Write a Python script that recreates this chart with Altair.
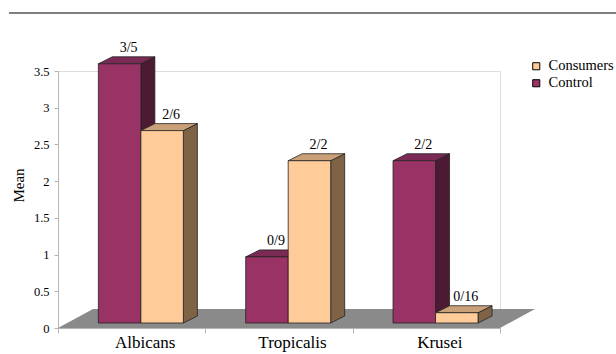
import json
import altair as alt
import pandas as pd

# ---------------- data ----------------
categories = ["Albicans", "Tropicalis", "Krusei"]
series = ["Control", "Consumers"]
control_means = [3.53, 0.90, 2.21]
consumer_means = [2.62, 2.21, 0.14]
control_labels = ["3/5", "0/9", "2/2"]
consumer_labels = ["2/6", "2/2", "0/16"]
y_ticks = [0, 0.5, 1, 1.5, 2, 2.5, 3, 3.5]

# ---------------- styles ----------------
FRONT = {"Control": "#993366", "Consumers": "#ffcc99"}
TOP = {"Control": "#7a2a55", "Consumers": "#c9a077"}
SIDE = {"Control": "#4c1a33", "Consumers": "#7f6347"}
FONT = "Liberation Serif"

W, H = 442, 257           # plot area in px
X_PX = W / 3.0            # px per category unit
Y_PX = H / 3.5            # px per value unit
FLOOR_DX, FLOOR_DY = 35 / X_PX, 19 / Y_PX
BAR_OX, BAR_OY = 9.2 / X_PX, 5 / Y_PX
BAR_DX, BAR_DY = 14 / X_PX, 7 / Y_PX
BAR_W = 42.5 / X_PX
LABEL_SHIFT = 13 / X_PX

values = {"Control": control_means, "Consumers": consumer_means}
labels = {"Control": control_labels, "Consumers": consumer_labels}

fronts, sides, tops, texts = [], [], [], []
for i, cat in enumerate(categories):
    for s, ser in enumerate(series):
        v = values[ser][i]
        bid = f"{cat}-{ser}"
        x0 = i + 0.5 - BAR_W + s * BAR_W + BAR_OX
        x1 = x0 + BAR_W
        y0 = BAR_OY
        y1 = BAR_OY + v
        fronts.append(dict(id=bid, series=ser, x=x0, x2=x1, y=y0, y2=y1))
        sides.append(dict(id=bid, o=0, fill=SIDE[ser], x=x1, y=y1, y2=y0))
        sides.append(dict(id=bid, o=1, fill=SIDE[ser], x=x1 + BAR_DX, y=y1 + BAR_DY, y2=y0 + BAR_DY))
        tops.append(dict(id=bid, o=0, fill=TOP[ser], y=y1, x=x0, x2=x1))
        tops.append(dict(id=bid, o=1, fill=TOP[ser], y=y1 + BAR_DY, x=x0 + BAR_DX, x2=x1 + BAR_DX))
        texts.append(dict(label=labels[ser][i], x=(x0 + x1) / 2 + 9 / X_PX, y=y1))

floor = pd.DataFrame([
    dict(id="floor", o=0, y=0, x=0, x2=3),
    dict(id="floor", o=1, y=FLOOR_DY, x=FLOOR_DX, x2=3 + FLOOR_DX),
])

XS = alt.Scale(domain=[0, 3], nice=False, zero=False)
YS = alt.Scale(domain=[0, 3.5], nice=False, zero=False)

x_vals = []
for i in range(len(categories)):
    x_vals += [i, round(i + 0.5 + LABEL_SHIFT, 4)]
x_vals.append(len(categories))

XA = alt.Axis(
    values=x_vals,
    labelExpr=f"datum.value % 1 === 0 ? '' : {json.dumps(categories)}[floor(datum.value)]",
    tickOpacity={"condition": {"test": "datum.value % 1 === 0", "value": 1}, "value": 0},
    tickSize=5, tickColor="#b5b5b5", domainColor="#b5b5b5",
    labelFont=FONT, labelFontSize=17, labelColor="#000", labelPadding=1,
    labelOverlap=False, labelFlush=False, grid=False, title=None,
)
YA = alt.Axis(
    values=y_ticks, format=".1~f",
    tickSize=4, tickColor="#b5b5b5", domainColor="#b5b5b5",
    labelFont=FONT, labelFontSize=12.5, labelColor="#000", labelPadding=5,
    grid=False, title="Mean", titleFont=FONT, titleFontSize=15,
    titleFontWeight="normal", titleColor="#000", titleAngle=270,
    titleX=-40, titleY=114, titleAlign="center", titleBaseline="middle",
)


def X(f):
    return alt.X(f, type="quantitative", scale=XS, axis=XA, stack=None)


def Y(f):
    return alt.Y(f, type="quantitative", scale=YS, axis=YA, stack=None)


floor_layer = alt.Chart(floor).mark_area(
    orient="horizontal", color="#8a8a8a", opacity=1
).encode(y=Y("y"), x=X("x"), x2="x2")

side_layer = alt.Chart(pd.DataFrame(sides)).mark_area(
    orient="vertical", stroke="#222", strokeWidth=0.8, opacity=1
).encode(
    x=X("x"), y=Y("y"), y2="y2", detail="id:N",
    fill=alt.Fill("fill:N", scale=None),
)

top_layer = alt.Chart(pd.DataFrame(tops)).mark_area(
    orient="horizontal", stroke="#222", strokeWidth=0.8, opacity=1
).encode(
    y=Y("y"), x=X("x"), x2="x2", detail="id:N",
    fill=alt.Fill("fill:N", scale=None),
)

front_layer = alt.Chart(pd.DataFrame(fronts)).mark_rect(
    stroke="#222", strokeWidth=0.8
).encode(
    x=X("x"), x2="x2", y=Y("y"), y2="y2",
    color=alt.Color(
        "series:N",
        scale=alt.Scale(domain=["Consumers", "Control"],
                        range=[FRONT["Consumers"], FRONT["Control"]]),
        legend=alt.Legend(
            title=None, orient="none", legendX=471, legendY=-12,
            symbolType="square", symbolSize=50, symbolStrokeColor="#000",
            symbolStrokeWidth=1, labelFont=FONT, labelFontSize=14.5,
            labelColor="#000", rowPadding=2, padding=0, labelOffset=5,
        ),
    ),
)

text_layer = alt.Chart(pd.DataFrame(texts)).mark_text(
    baseline="alphabetic", align="center", dy=-12, fontSize=14, font=FONT, color="#000"
).encode(x=X("x"), y=Y("y"), text="label:N")

top_line = alt.Chart(alt.Data(values=[{}])).mark_rule(
    color="#555", strokeWidth=1.5
).encode(x=alt.value(-49), x2=alt.value(558), y=alt.value(-58))

chart = alt.layer(
    floor_layer, side_layer, top_layer, front_layer, text_layer, top_line
).resolve_scale(fill="independent", color="independent").properties(
    width=W, height=H,
    autosize="none",
    padding={"left": 58, "top": 71, "right": 616 - 58 - W, "bottom": 354 - 71 - H},
).configure_view(stroke=None).configure(background="white", font=FONT)

chart.save("out.html", embed_options={"renderer": "svg", "actions": False})
